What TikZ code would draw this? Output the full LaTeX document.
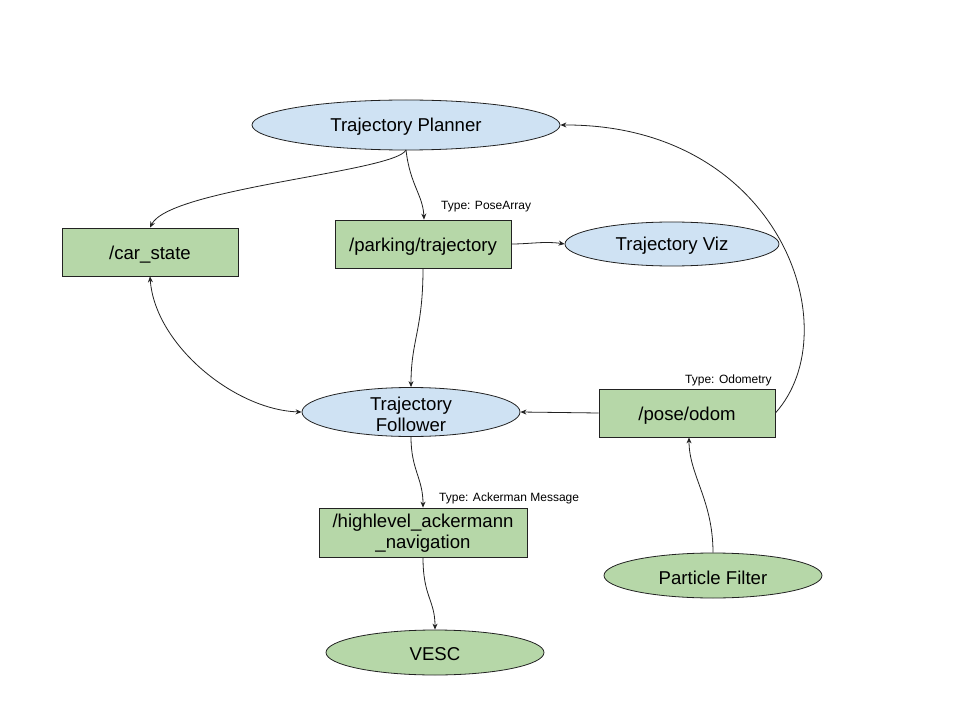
\documentclass[tikz,border=0pt]{standalone}
\usepackage{fontspec}
\setmainfont{Liberation Sans}
\usetikzlibrary{shapes.geometric,arrows.meta}
\definecolor{nodeblue}{HTML}{CFE2F3}
\definecolor{nodegreen}{HTML}{B6D7A8}
\definecolor{edgegray}{HTML}{222222}
\newcommand{\lowr}[2]{\raisebox{-#1}[\height][\depth]{#2}}
\begin{document}
\begin{tikzpicture}[x=1pt,y=-1pt,
  blueell/.style={ellipse,draw=edgegray,fill=nodeblue,line width=0.8pt,inner sep=0pt,font=\fontsize{18.6}{21}\selectfont,align=center},
  greenell/.style={ellipse,draw=edgegray,fill=nodegreen,line width=0.8pt,inner sep=0pt,font=\fontsize{18.6}{21}\selectfont,align=center},
  topicbox/.style={rectangle,draw=edgegray,fill=nodegreen,line width=0.8pt,inner sep=0pt,font=\fontsize{18.6}{21}\selectfont,align=center},
  typelabel/.style={font=\fontsize{12}{14}\selectfont,inner sep=0pt,anchor=west},
  arr/.style={draw=edgegray,line width=0.8pt,-{Stealth[length=6pt,width=5pt]}},
  biarr/.style={draw=edgegray,line width=0.8pt,{Stealth[length=6pt,width=5pt]}-{Stealth[length=6pt,width=5pt]}}]
\useasboundingbox[fill=white] (0,0) rectangle (955,703);

\node[blueell,minimum width=308pt,minimum height=50pt] (tp) at (406,125) {\lowr{2pt}{Trajectory Planner}};
\node[topicbox,minimum width=176pt,minimum height=48pt] (cs) at (150,252) {\lowr{3pt}{/car\_state}};
\node[topicbox,minimum width=176pt,minimum height=48pt] (pt) at (423,244) {\lowr{3pt}{/parking/trajectory}};
\node[blueell,minimum width=214pt,minimum height=44pt] (tv) at (672,244) {\lowr{2pt}{Trajectory Viz}};
\node[blueell,minimum width=218pt,minimum height=46pt] (tf) at (411,412) {\lowr{2pt}{Trajectory}\\\lowr{2pt}{Follower}};
\node[topicbox,minimum width=176pt,minimum height=48pt] (po) at (687,413) {\lowr{3pt}{/pose/odom}};
\node[topicbox,minimum width=208pt,minimum height=49pt] (hl) at (423,532.5) {\lowr{1pt}{/highlevel\_ackermann}\\\lowr{1pt}{\_navigation}};
\node[greenell,minimum width=218pt,minimum height=45pt] (pf) at (713,575.5) {\lowr{2pt}{Particle Filter}};
\node[greenell,minimum width=218pt,minimum height=45pt] (ve) at (435,652.5) {\lowr{2pt}{VESC}};

\node[typelabel] (l1) at (441,207) {Type: PoseArray};
\node[typelabel] (l2) at (685,380) {Type: Odometry};
\node[typelabel] (l3) at (439,498) {Type: Ackerman Message};

\coordinate (tpb) at (406,150);
\draw[arr] (tpb) .. controls (395,172) and (170,188) .. (cs.north);
\draw[arr] (tpb) .. controls (410,185) and (423,195) .. ([xshift=1pt]pt.north);
\draw[arr] (pt.east) .. controls (530,244) and (545,241) .. (tv.west);
\draw[arr] (pt.south) .. controls (423,330) and (411,340) .. (tf.north);
\draw[biarr] (cs.south) .. controls (155,345) and (235,410) .. (tf.west);
\draw[arr] (po.west) -- (tf.east);
\draw[arr] (po.east) .. controls (850,330) and (780,124) .. (tp.east);
\draw[arr] (pf.north) .. controls (713,500) and (689,475) .. ([xshift=2pt]po.south);
\draw[arr] (tf.south) .. controls (411,470) and (423,478) .. (hl.north);
\draw[arr] (hl.south) .. controls (423,597) and (435,600) .. (ve.north);
\end{tikzpicture}
\end{document}
